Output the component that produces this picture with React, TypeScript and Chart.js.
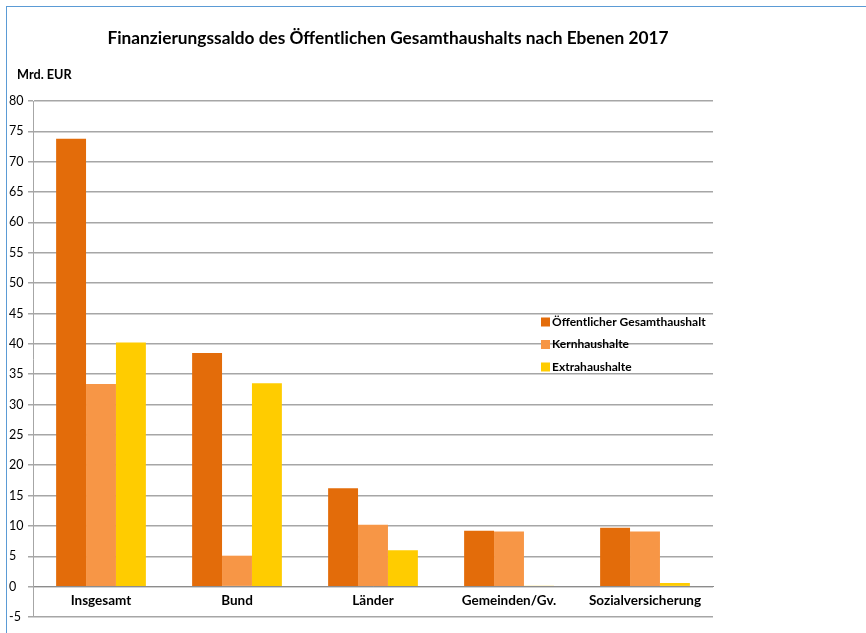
import React, { useEffect, useRef } from "react";
import { Chart, registerables } from "chart.js";

Chart.register(...registerables);

const categories = ["Insgesamt", "Bund", "Länder", "Gemeinden/Gv.", "Sozialversicherung"];
const seriesNames = ["Öffentlicher Gesamthaushalt", "Kernhaushalte", "Extrahaushalte"];
const gesamt = [73.8, 38.5, 16.2, 9.2, 9.7];
const kern = [33.4, 5.1, 10.2, 9.1, 9.1];
const extra = [40.2, 33.5, 6.0, 0.15, 0.6];
const colors = ["#E36C0A", "#F79646", "#FFCC00"];
const titleText = "Finanzierungssaldo des Öffentlichen Gesamthaushalts nach Ebenen 2017";
const unitText = "Mrd. EUR";
const yMin = -5;
const yMax = 80;
const yStep = 5;

const FONT = "Lato, 'Open Sans', sans-serif";

const overlayPlugin = {
  id: "overlay",
  afterDraw(chart: any) {
    const ctx = chart.ctx;
    ctx.save();
    ctx.fillStyle = "#000";
    ctx.textBaseline = "middle";
    ctx.textAlign = "center";
    ctx.font = `bold 17.3px ${FONT}`;
    ctx.fillText(titleText, 388, 38);
    ctx.textAlign = "left";
    ctx.font = `bold 12.7px ${FONT}`;
    ctx.fillText(unitText, 17, 75);
    // legend
    ctx.font = `bold 12px ${FONT}`;
    chart.data.datasets.forEach((ds: any, i: number) => {
      const y = 322 + i * 22.5;
      ctx.fillStyle = ds.backgroundColor;
      ctx.fillRect(541, y - 4.5, 9, 9);
      ctx.fillStyle = "#000";
      ctx.fillText(ds.label, 552, y);
    });
    ctx.restore();
  },
};

export default function App() {
  const ref = useRef<HTMLCanvasElement>(null);
  useEffect(() => {
    if (!ref.current) return;
    const chart = new Chart(ref.current, {
      type: "bar",
      data: {
        labels: categories,
        datasets: [gesamt, kern, extra].map((d, i) => ({
          label: seriesNames[i],
          data: d,
          backgroundColor: colors[i],
          borderWidth: 0,
          categoryPercentage: 0.66,
          barPercentage: 1,
        })),
      },
      options: {
        responsive: false,
        animation: false,
        devicePixelRatio: 1,
        layout: { padding: { left: 9, top: 101, right: 153, bottom: 16 } },
        plugins: {
          legend: { display: false },
          title: { display: false },
          tooltip: { enabled: false },
        },
        scales: {
          x: {
            position: { y: 0 } as any,
            grid: { display: false, drawTicks: false },
            border: { display: true, color: "#8c8c8c", width: 1 },
            ticks: {
              color: "#000",
              font: { family: FONT, size: 13.5, weight: "bold" },
              padding: 6,
            },
          },
          y: {
            min: yMin,
            max: yMax,
            afterFit: (s: any) => {
              s.width = 24;
            },
            ticks: {
              stepSize: yStep,
              crossAlign: "far",
              color: "#000",
              font: { family: FONT, size: 12.5 },
            },
            grid: {
              color: "#a6a6a6",
              lineWidth: 1.5,
              tickLength: 5,
              tickColor: "#a6a6a6",
            },
            border: { display: true, color: "#a6a6a6", width: 1 },
          },
        },
      },
      plugins: [overlayPlugin],
    });
    return () => chart.destroy();
  }, []);
  return (
    <div style={{ position: "fixed", left: 0, top: 0, width: 866, height: 633, background: "#fff" }}>
      <div
        style={{
          position: "absolute",
          left: 6,
          top: 6,
          right: 0,
          bottom: 0,
          borderTop: "1.5px solid #5B9BD5",
          borderLeft: "1.5px solid #5B9BD5",
        }}
      />
      <canvas ref={ref} width={866} height={633} style={{ position: "absolute", left: 0, top: 0 }} />
    </div>
  );
}
